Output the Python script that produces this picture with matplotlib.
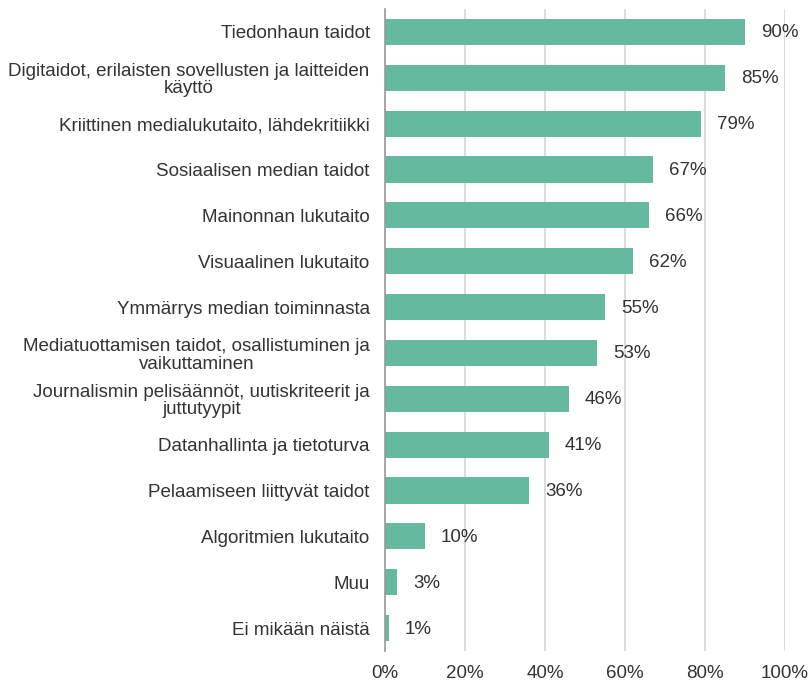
import matplotlib.pyplot as plt
from matplotlib.ticker import FuncFormatter

categories = [
    "Tiedonhaun taidot",
    "Digitaidot, erilaisten sovellusten ja laitteiden\nkäyttö",
    "Kriittinen medialukutaito, lähdekritiikki",
    "Sosiaalisen median taidot",
    "Mainonnan lukutaito",
    "Visuaalinen lukutaito",
    "Ymmärrys median toiminnasta",
    "Mediatuottamisen taidot, osallistuminen ja\nvaikuttaminen",
    "Journalismin pelisäännöt, uutiskriteerit ja\njuttutyypit",
    "Datanhallinta ja tietoturva",
    "Pelaamiseen liittyvät taidot",
    "Algoritmien lukutaito",
    "Muu",
    "Ei mikään näistä",
]
values = [90, 85, 79, 67, 66, 62, 55, 53, 46, 41, 36, 10, 3, 1]
xticks = [0, 20, 40, 60, 80, 100]

plt.rcParams['font.family'] = ['Liberation Sans', 'DejaVu Sans']
textcol = '#333333'
barcol = '#66b9a1'
fs = 13.5

fig = plt.figure(figsize=(8.11, 6.82), dpi=100)
ax = fig.add_axes([0.4747, 0.0455, 0.4932, 0.9413])

ypos = list(range(len(categories)))
ax.barh(ypos, values, height=0.57, color=barcol, zorder=3)
for y, v in zip(ypos, values):
    ax.annotate(f"{v}%", (v, y), xytext=(16, -1), textcoords='offset pixels',
                va='center', ha='left', fontsize=fs, color=textcol)

ax.set_ylim(len(categories) - 0.5, -0.5)
ax.set_xlim(0, 100)
ax.set_yticks(ypos)
ax.set_yticklabels(categories, fontsize=fs, color=textcol, multialignment='center',
                   linespacing=1.05)
ax.set_xticks(xticks)
ax.xaxis.set_major_formatter(FuncFormatter(lambda x, p: f"{x:.0f}%"))
ax.tick_params(axis='x', length=0, pad=10, labelsize=fs, labelcolor=textcol)
ax.tick_params(axis='y', length=0, pad=11)

ax.grid(axis='x', color='#d9d9d9', linewidth=1.3, zorder=0)
for s in ['top', 'right', 'bottom']:
    ax.spines[s].set_visible(False)
ax.spines['left'].set_color('#999999')
ax.spines['left'].set_linewidth(1.2)
ax.spines['left'].set_zorder(4)

fig.savefig('out.png', dpi=100)
